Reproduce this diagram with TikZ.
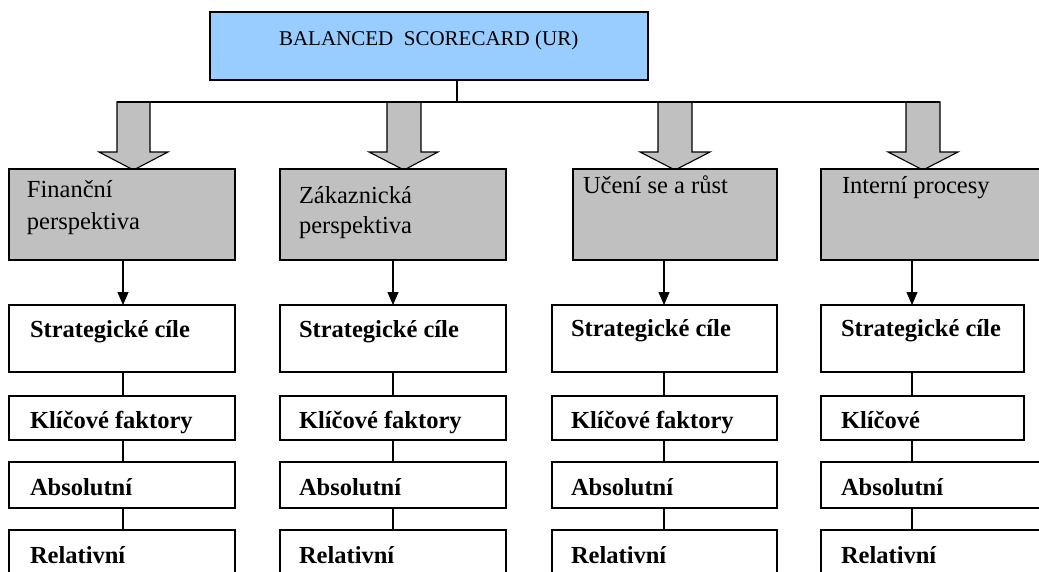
\documentclass[tikz,border=0pt]{standalone}
\usepackage{fontspec}
\setmainfont{Liberation Serif}
\usetikzlibrary{arrows.meta}
\definecolor{topblue}{HTML}{99CCFF}
\definecolor{boxgray}{HTML}{C0C0C0}
\tikzset{
  frame/.style={draw=black, line width=1.1pt, inner sep=0pt, outer sep=0pt},
  topbox/.style={frame, fill=topblue},
  graybox/.style={frame, fill=boxgray},
  whitebox/.style={frame, fill=white},
  lbl/.style={anchor=base west, inner sep=0pt, outer sep=0pt, font=\fontsize{24.5}{28}\selectfont},
  blbl/.style={lbl, font=\fontsize{24.5}{28}\selectfont\bfseries},
  conn/.style={draw=black, line width=1.1pt},
  arr/.style={conn, -{Triangle[width=11pt,length=13pt]}},
  blockarrow/.style={draw=black, line width=1.1pt, fill=boxgray, line join=miter},
}
\begin{document}
\begin{tikzpicture}[x=1pt,y=-1pt]
\useasboundingbox (0,0) rectangle (1039,571);
\clip (0,0) rectangle (1039,571);

% top box
\node[topbox, minimum width=438, minimum height=68] (top) at (429,46) {};
\node[lbl, font=\fontsize{21}{26}\selectfont] (toptxt) at (279,45) {BALANCED\ \ SCORECARD (UR)};

% block arrows
\draw[blockarrow] (117,102) -- (117,152) -- (99,152) -- (133.5,170) -- (168,152) -- (150,152) -- (150,102) -- cycle;
\draw[blockarrow] (387,102) -- (387,152) -- (369,152) -- (404,170) -- (438,152) -- (421,152) -- (421,102) -- cycle;
\draw[blockarrow] (658,102) -- (658,152) -- (640,152) -- (675,170) -- (710,152) -- (692,152) -- (692,102) -- cycle;
\draw[blockarrow] (906,102) -- (906,152) -- (888,152) -- (923,170) -- (958,152) -- (940,152) -- (940,102) -- cycle;

% bus
\coordinate (busL) at (117,102);
\coordinate (busR) at (940,102);
\coordinate (bus) at (457,102);
\draw[conn] (top.south -| bus) -- (bus);
\draw[conn] (busL) -- (busR);

% gray boxes
\node[graybox, minimum width=226, minimum height=91] (g1) at (122,214.5) {};
\node[graybox, minimum width=226, minimum height=91] (g2) at (393,214.5) {};
\node[graybox, minimum width=204, minimum height=91] (g3) at (675,214.5) {};
\node[graybox, minimum width=239, minimum height=91] (g4) at (940.5,214.5) {};

\node[lbl] (g1a) at (27,197) {Finanční};
\node[lbl] (g1b) at (27,229) {perspektiva};
\node[lbl] (g2a) at (299,203) {Zákaznická};
\node[lbl] (g2b) at (299,233) {perspektiva};
\node[lbl] (g3a) at (583,193) {Učení se a růst};
\node[lbl] (g4a) at (842,193) {Interní procesy};

% white boxes column 1
\node[whitebox, minimum width=226, minimum height=67] (s1) at (122,338.5) {};
\node[whitebox, minimum width=226, minimum height=44] (k1) at (122,418) {};
\node[whitebox, minimum width=226, minimum height=46] (a1) at (122,485) {};
\node[whitebox, minimum width=226, minimum height=70] (r1) at (122,565) {};
% column 2
\node[whitebox, minimum width=226, minimum height=67] (s2) at (393,338.5) {};
\node[whitebox, minimum width=226, minimum height=44] (k2) at (393,418) {};
\node[whitebox, minimum width=226, minimum height=46] (a2) at (393,485) {};
\node[whitebox, minimum width=226, minimum height=70] (r2) at (393,565) {};
% column 3
\node[whitebox, minimum width=225, minimum height=67] (s3) at (664.5,338.5) {};
\node[whitebox, minimum width=225, minimum height=44] (k3) at (664.5,418) {};
\node[whitebox, minimum width=225, minimum height=46] (a3) at (664.5,485) {};
\node[whitebox, minimum width=225, minimum height=70] (r3) at (664.5,565) {};
% column 4
\node[whitebox, minimum width=203, minimum height=67] (s4) at (922.5,338.5) {};
\node[whitebox, minimum width=203, minimum height=44] (k4) at (922.5,418) {};
\node[whitebox, minimum width=239, minimum height=46] (a4) at (940.5,485) {};
\node[whitebox, minimum width=239, minimum height=70] (r4) at (940.5,565) {};

% labels
\node[blbl] (s1t) at (30,337) {Strategické cíle};
\node[blbl] (s2t) at (299,337) {Strategické cíle};
\node[blbl] (s3t) at (571,336) {Strategické cíle};
\node[blbl] (s4t) at (841,336) {Strategické cíle};
\node[blbl] (k1t) at (30,428) {Klíčové faktory};
\node[blbl] (k2t) at (299,428) {Klíčové faktory};
\node[blbl] (k3t) at (571,428) {Klíčové faktory};
\node[blbl] (k4t) at (841,428) {Klíčové};
\node[blbl] (a1t) at (30,495) {Absolutní};
\node[blbl] (a2t) at (299,495) {Absolutní};
\node[blbl] (a3t) at (571,495) {Absolutní};
\node[blbl] (a4t) at (841,495) {Absolutní};
\node[blbl] (r1t) at (30,563) {Relativní};
\node[blbl] (r2t) at (299,563) {Relativní};
\node[blbl] (r3t) at (571,563) {Relativní};
\node[blbl] (r4t) at (841,563) {Relativní};

% connectors
\coordinate (c1) at (123,0);
\coordinate (c2) at (393,0);
\coordinate (c3) at (664,0);
\coordinate (c4) at (912,0);
\draw[arr] (g1.south -| c1) -- (s1.north -| c1);
\draw[arr] (g2.south -| c2) -- (s2.north -| c2);
\draw[arr] (g3.south -| c3) -- (s3.north -| c3);
\draw[arr] (g4.south -| c4) -- (s4.north -| c4);
\foreach \c in {1,2,3,4} {
  \draw[conn] (s\c.south -| c\c) -- (k\c.north -| c\c);
  \draw[conn] (k\c.south -| c\c) -- (a\c.north -| c\c);
  \draw[conn] (a\c.south -| c\c) -- (r\c.north -| c\c);
}
\end{tikzpicture}
\end{document}
